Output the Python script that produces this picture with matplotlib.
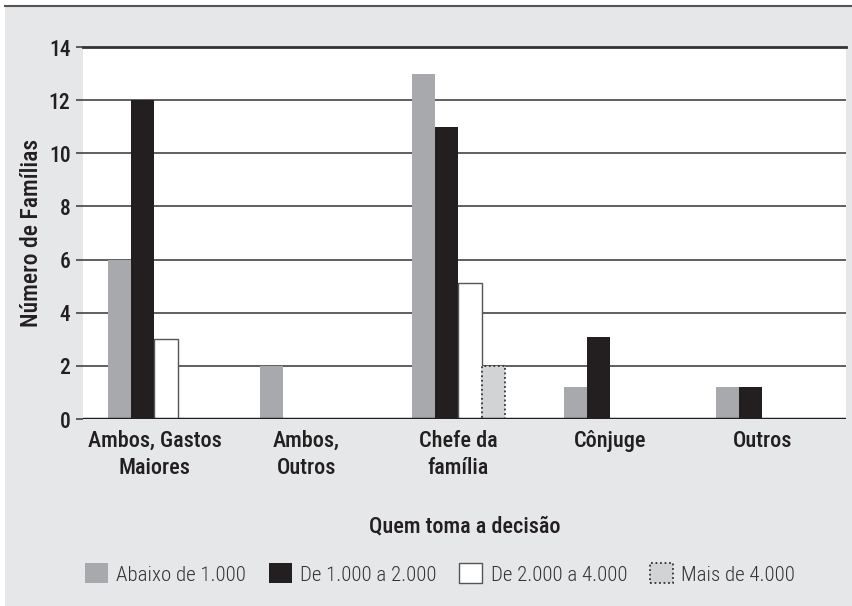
import numpy as np
import matplotlib.pyplot as plt
from matplotlib.patches import Rectangle
from matplotlib.lines import Line2D

# categories and series
categories = ["Ambos, Gastos\nMaiores", "Ambos,\nOutros", "Chefe da\nfamília", "Cônjuge", "Outros"]
series_names = ["Abaixo de 1.000", "De 1.000 a 2.000", "De 2.000 a 4.000", "Mais de 4.000"]
abaixo_1000 = [6, 2, 13, 1.2, 1.2]
de_1000_2000 = [12, 0, 11, 3.1, 1.2]
de_2000_4000 = [3, 0, 5.1, 0, 0]
mais_4000 = [0, 0, 2, 0, 0]
yticks = [0, 2, 4, 6, 8, 10, 12, 14]

plt.rcParams["font.family"] = ["Roboto Condensed", "DejaVu Sans"]
TXT = "#231f20"

fig = plt.figure(figsize=(8.52, 6.06), dpi=100, facecolor="white")
# grey panel and top rule
fig.patches.append(Rectangle((5 / 852, 0), 1, (606 - 7) / 606, transform=fig.transFigure,
                             facecolor="#e6e7e8", edgecolor="none", zorder=-5))
fig.lines.append(Line2D([5 / 852, 1], [(606 - 6) / 606] * 2, transform=fig.transFigure,
                        color="#555555", lw=1.5, zorder=-4))

ax = fig.add_axes([83 / 852, (606 - 419) / 606, (846 - 83) / 852, (419 - 47) / 606])
ax.set_facecolor("white")

x = np.arange(len(categories))
w = 0.152
styles = [
    dict(color="#a7a9ac", edgecolor="none"),
    dict(color="#231f20", edgecolor="none"),
    dict(facecolor="white", edgecolor="#555555", linewidth=1.0),
    dict(facecolor="#d1d3d4", edgecolor="#333333", linewidth=1.3, linestyle=(0, (1, 1.5))),
]
data = [abaixo_1000, de_1000_2000, de_2000_4000, mais_4000]
handles = []
for i, (vals, st) in enumerate(zip(data, styles)):
    b = ax.bar(x + (i - 1.5) * w, vals, width=w, label=series_names[i], zorder=3, **st)
    handles.append(b)

ax.set_xlim(-0.47, 4.55)
ax.set_ylim(0, 14)
ax.set_yticks(yticks)
ax.yaxis.grid(True, color="#444444", lw=1.2, zorder=1)
ax.axhline(0, color="#231f20", lw=2.5, zorder=4)
for s in ["left", "right", "bottom"]:
    ax.spines[s].set_visible(False)
ax.spines["top"].set_color("#333333")
ax.spines["top"].set_linewidth(2)

ax.set_xticks(x)
ax.set_xticklabels(categories, fontsize=16, fontweight=500, color=TXT, linespacing=1.3)
ax.tick_params(axis="x", length=0, pad=8)
ax.tick_params(axis="y", length=5, width=1.2, color="#444444", labelsize=15.5, labelcolor=TXT, pad=4)
for t in ax.get_yticklabels():
    t.set_fontweight(500)

ax.set_ylabel("Número de Famílias", fontsize=17, fontweight=500, color=TXT, labelpad=4)
ax.set_xlabel("Quem toma a decisão", fontsize=16, fontweight=500, color=TXT, labelpad=26)

leg = fig.legend(handles=handles, loc="center", bbox_to_anchor=(440 / 852, (606 - 574) / 606),
                 ncol=4, frameon=False, prop=dict(family="Roboto Condensed", size=15, weight=300),
                 handlelength=1.1, handleheight=1.1,
                 handletextpad=0.4, columnspacing=1.1, labelcolor="#333333")

fig.savefig("out.png", dpi=100, facecolor="white")
